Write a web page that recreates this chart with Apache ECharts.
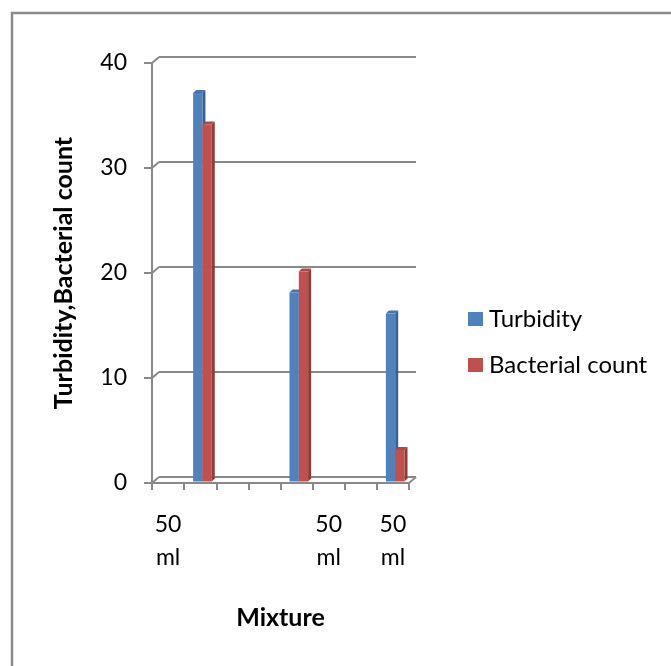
<!DOCTYPE html>
<html>
<head>
<meta charset="utf-8">
<script src="https://cdn.jsdelivr.net/npm/echarts@6/dist/echarts.min.js"></script>
<style>html,body{margin:0;padding:0;background:#fff}#c{width:671px;height:666px}</style>
</head>
<body>
<div id="c"></div>
<script>
// ---- data ----
const categories = ['50\nml', '', '', '', '', '50\nml', '', '50\nml'];
const turbidity = [null, 37, null, null, 18, null, null, 16];
const bacterialCount = [null, 34, null, null, 20, null, null, 3];
const yTicks = [0, 10, 20, 30, 40];
const seriesNames = ['Turbidity', 'Bacterial count'];
const yAxisTitle = 'Turbidity,Bacterial count';
const xAxisTitle = 'Mixture';

const FONT = 'Lato';
const GRID = '#898989';
const DX = 7, DY = 6;
const faces = [
  {front: '#4F81BD', side: '#38608F', top: '#4777AF'},
  {front: '#C0504D', side: '#8E3A38', top: '#B04945'}
];

function barRender(si) {
  return function (params, api) {
    const v = api.value(1);
    if (v == null || isNaN(v)) return null;
    const cat = api.value(0);
    const band = api.size([1, 0])[0];
    const base = api.coord([cat, 0]);
    const top = api.coord([cat, v]);
    const w = band * 0.29;
    const d = 3;
    const lift = 1.5;
    const left = base[0] + (si === 0 ? -0.22 : 0.07) * band;
    const yb = base[1] - lift, yt = top[1] - lift;
    const f = faces[si];
    return {
      type: 'group',
      children: [
        {type: 'polygon', shape: {points: [[left + w, yt], [left + w + d, yt - d], [left + w + d, yb - d], [left + w, yb]]}, style: {fill: f.side}},
        {type: 'polygon', shape: {points: [[left, yt], [left + d, yt - d], [left + w + d, yt - d], [left + w, yt]]}, style: {fill: f.top}},
        {type: 'rect', shape: {x: left, y: yt, width: w, height: yb - yt}, style: {fill: f.front}}
      ]
    };
  };
}

const chart = echarts.init(document.getElementById('c'), null, {renderer: 'canvas'});
chart.setOption({
  animation: false,
  backgroundColor: '#fff',
  textStyle: {fontFamily: FONT},
  graphic: [{
    type: 'rect', left: 9.5, top: 10.5, shape: {x: 0, y: 0, width: 700, height: 700},
    style: {fill: 'none', stroke: '#8a8a8a', lineWidth: 2.5}, silent: true
  }],
  legend: {
    orient: 'vertical', left: 468, top: 307, padding: 0, itemWidth: 15, itemHeight: 14, itemGap: 22,
    icon: 'rect',
    textStyle: {fontFamily: FONT, fontSize: 24, color: '#000', padding: [0, 0, 0, 1]},
    data: seriesNames
  },
  grid: [
    {left: 152, right: 262, top: 63, bottom: 183, containLabel: false},
    {left: 152 + DX, right: 262 - DX, top: 63 - DY, bottom: 183 + DY, containLabel: false}
  ],
  xAxis: [
    {
      gridIndex: 0, type: 'category', data: categories, boundaryGap: true,
      axisLine: {lineStyle: {color: GRID, width: 2}},
      axisTick: {show: true, length: 7, alignWithLabel: false, interval: 0, lineStyle: {color: GRID, width: 2}},
      axisLabel: {interval: 0, fontFamily: FONT, fontSize: 23, color: '#000', lineHeight: 33, margin: 25},
      name: xAxisTitle, nameLocation: 'middle', nameGap: 122,
      nameTextStyle: {fontFamily: FONT, fontSize: 25, fontWeight: 'bold', color: '#000'}
    },
    {
      gridIndex: 1, type: 'category', data: categories, boundaryGap: true,
      axisLine: {show: false}, axisTick: {show: false}, axisLabel: {show: false}, splitLine: {show: false}
    }
  ],
  yAxis: [
    {
      gridIndex: 0, type: 'value', min: 0, max: 40, interval: 10,
      axisLine: {show: true, lineStyle: {color: GRID, width: 2}},
      axisTick: {show: true, length: 8, lineStyle: {color: GRID, width: 2}},
      axisLabel: {fontFamily: FONT, fontSize: 23, color: '#000', margin: 25},
      splitLine: {show: false},
      name: yAxisTitle, nameLocation: 'middle', nameGap: 76, nameRotate: 90,
      nameTextStyle: {fontFamily: FONT, fontSize: 25, fontWeight: 'bold', color: '#000'}
    },
    {
      gridIndex: 1, type: 'value', min: 0, max: 40, interval: 10,
      axisLine: {show: false}, axisTick: {show: false}, axisLabel: {show: false},
      splitLine: {show: true, lineStyle: {color: GRID, width: 2}}
    }
  ],
  series: [
    {
      type: 'custom', name: 'connectors', xAxisIndex: 0, yAxisIndex: 0, silent: true, z: 1,
      data: yTicks.map(v => [0, v]),
      renderItem: function (params, api) {
        const v = api.value(1);
        const band = api.size([1, 0])[0];
        const p = api.coord([0, v]);
        const x0 = p[0] - band / 2;
        const children = [{type: 'line', shape: {x1: x0, y1: p[1], x2: x0 + DX, y2: p[1] - DY}, style: {stroke: GRID, lineWidth: 2}}];
        if (v === 0) {
          const q = api.coord([categories.length - 1, 0]);
          const x1 = q[0] + band / 2;
          children.push({type: 'line', shape: {x1: x1, y1: q[1], x2: x1 + DX, y2: q[1] - DY}, style: {stroke: GRID, lineWidth: 2}});
        }
        return {type: 'group', children: children};
      }
    },
    {
      type: 'custom', name: seriesNames[0], xAxisIndex: 0, yAxisIndex: 0, z: 3,
      itemStyle: {color: faces[0].front},
      data: turbidity.map((v, i) => [i, v]),
      renderItem: barRender(0)
    },
    {
      type: 'custom', name: seriesNames[1], xAxisIndex: 0, yAxisIndex: 0, z: 3,
      itemStyle: {color: faces[1].front},
      data: bacterialCount.map((v, i) => [i, v]),
      renderItem: barRender(1)
    }
  ]
});
</script>
</body>
</html>
